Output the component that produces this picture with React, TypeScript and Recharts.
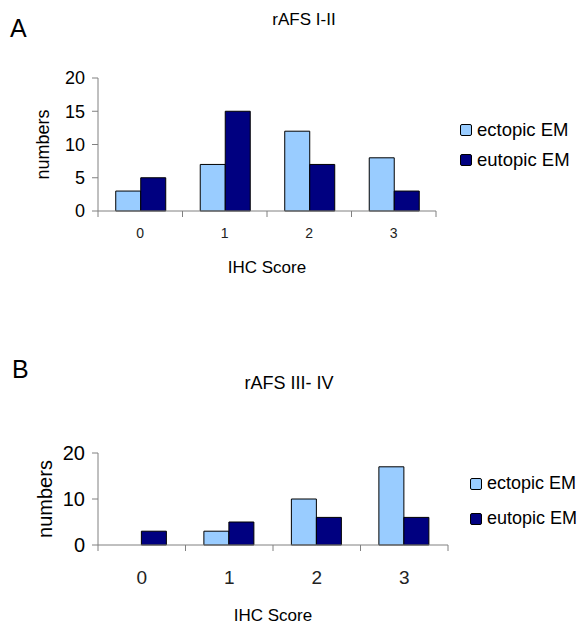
import React from 'react';
import { BarChart, Bar, XAxis, YAxis, Legend, Label } from 'recharts';

const categories = ['0', '1', '2', '3'];
const ectopicA = [3, 7, 12, 8];
const eutopicA = [5, 15, 7, 3];
const ectopicB = [0, 3, 10, 17];
const eutopicB = [3, 5, 6, 6];
const ticksA = [0, 5, 10, 15, 20];
const ticksB = [0, 10, 20];

const LIGHT = '#99ccff';
const DARK = '#000080';
const AXIS = '#808080';
const FONT = 'Arial, "Liberation Sans", sans-serif';
const NARROW = '"Liberation Sans Narrow", "Arial Narrow", Arial, sans-serif';

const buildRows = (ectopic: number[], eutopic: number[]) =>
    categories.map((score, i) => ({ score, ectopic: ectopic[i], eutopic: eutopic[i] }));

const rowsA = buildRows(ectopicA, eutopicA);
const rowsB = buildRows(ectopicB, eutopicB);

// Excel style: tick marks sit between categories, label in the middle
const BoundaryTick = (props: any) => {
    const { x, y, payload, index, visibleTicksCount, fontSize, dy, family, half } = props;
    const off = payload?.offset || half;
    const last = index === (visibleTicksCount ?? categories.length) - 1;
    return (
        <g>
            <line x1={x - off} x2={x - off} y1={y} y2={y + 6} stroke={AXIS} />
            {last && <line x1={x + off} x2={x + off} y1={y} y2={y + 6} stroke={AXIS} />}
            <text x={x} y={y + dy} textAnchor="middle" fontSize={fontSize} fontFamily={family} fill="#222">
                {payload.value}
            </text>
        </g>
    );
};

const LegendBox = ({ payload, fontSize, family, gap }: any) => (
    <div style={{ fontFamily: family, fontSize, color: '#000' }}>
        {(payload || []).map((p: any) => (
            <div key={p.value} style={{ display: 'flex', alignItems: 'center', height: gap }}>
                <span
                    style={{
                        display: 'inline-block',
                        width: 10,
                        height: 10,
                        background: p.color,
                        border: '1px solid #000',
                        borderRadius: 2,
                        marginRight: 5
                    }}
                />
                <span>{p.value}</span>
            </div>
        ))}
    </div>
);

const App = () => {
    return (
        <div style={{ position: 'absolute', left: 0, top: 0, width: 584, height: 633, background: '#fff' }}>
            <div style={{ position: 'absolute', left: 10, top: 14, fontFamily: FONT, fontSize: 25 }}>A</div>
            <div
                style={{
                    position: 'absolute',
                    left: 206,
                    width: 196,
                    top: 10,
                    textAlign: 'center',
                    fontFamily: FONT,
                    fontSize: 17
                }}
            >
                rAFS I-II
            </div>

            <div style={{ position: 'absolute', left: 0, top: 0 }}>
                <BarChart
                    width={584}
                    height={290}
                    data={rowsA}
                    margin={{ top: 78, right: 148, bottom: 17, left: 0 }}
                    barGap={0}
                    barCategoryGap="21%"
                >
                    <XAxis
                        dataKey="score"
                        height={62}
                        stroke={AXIS}
                        tickLine={false}
                        tickSize={0}
                        tickMargin={0}
                        tick={<BoundaryTick fontSize={14} dy={27} family={FONT} half={42.25} />}
                    >
                        <Label
                            value="IHC Score"
                            position="insideBottom"
                            offset={0}
                            style={{ fontFamily: FONT, fontSize: 17, fill: '#000' }}
                        />
                    </XAxis>
                    <YAxis
                        width={98}
                        domain={[0, 20]}
                        ticks={ticksA}
                        stroke={AXIS}
                        tickSize={6}
                        tickMargin={7}
                        tick={{ fontFamily: FONT, fontSize: 18, fill: '#000' }}
                    >
                        <Label
                            value="numbers"
                            angle={-90}
                            position="insideLeft"
                            offset={43}
                            style={{ textAnchor: 'middle', fontFamily: FONT, fontSize: 18, fill: '#000' }}
                        />
                    </YAxis>
                    <Legend
                        layout="vertical"
                        verticalAlign="middle"
                        align="center"
                        wrapperStyle={{ left: 460, top: 115, width: 124 }}
                        content={<LegendBox fontSize={18.5} family={FONT} gap={30} />}
                    />
                    <Bar dataKey="ectopic" name="ectopic EM" fill={LIGHT} stroke="#000" strokeWidth={1} isAnimationActive={false} />
                    <Bar dataKey="eutopic" name="eutopic EM" fill={DARK} stroke="#000" strokeWidth={1} isAnimationActive={false} />
                </BarChart>
            </div>

            <div style={{ position: 'absolute', left: 12, top: 355, fontFamily: FONT, fontSize: 25 }}>B</div>
            <div
                style={{
                    position: 'absolute',
                    left: 190,
                    width: 198,
                    top: 373,
                    textAlign: 'center',
                    fontFamily: NARROW,
                    fontSize: 18
                }}
            >
                rAFS III- IV
            </div>

            <div style={{ position: 'absolute', left: 0, top: 320 }}>
                <BarChart
                    width={584}
                    height={313}
                    data={rowsB}
                    margin={{ top: 133, right: 136, bottom: 12, left: 0 }}
                    barGap={0}
                    barCategoryGap="21%"
                >
                    <XAxis
                        dataKey="score"
                        height={76}
                        stroke={AXIS}
                        tickLine={false}
                        tickSize={0}
                        tickMargin={0}
                        tick={<BoundaryTick fontSize={19} dy={39} family={NARROW} half={43.75} />}
                    >
                        <Label
                            value="IHC Score"
                            position="insideBottom"
                            offset={0}
                            style={{ fontFamily: NARROW, fontSize: 17, fill: '#000' }}
                        />
                    </XAxis>
                    <YAxis
                        width={98}
                        domain={[0, 20]}
                        ticks={ticksB}
                        stroke={AXIS}
                        tickSize={6}
                        tickMargin={7}
                        tick={{ fontFamily: NARROW, fontSize: 20, fill: '#000' }}
                    >
                        <Label
                            value="numbers"
                            angle={-90}
                            position="insideLeft"
                            offset={45}
                            style={{ textAnchor: 'middle', fontFamily: NARROW, fontSize: 20, fill: '#000' }}
                        />
                    </YAxis>
                    <Legend
                        layout="vertical"
                        verticalAlign="middle"
                        align="center"
                        wrapperStyle={{ left: 470, top: 146, width: 114 }}
                        content={<LegendBox fontSize={18} family={NARROW} gap={35} />}
                    />
                    <Bar dataKey="ectopic" name="ectopic EM" fill={LIGHT} stroke="#000" strokeWidth={1} isAnimationActive={false} />
                    <Bar dataKey="eutopic" name="eutopic EM" fill={DARK} stroke="#000" strokeWidth={1} isAnimationActive={false} />
                </BarChart>
            </div>
        </div>
    );
};

export default App;
